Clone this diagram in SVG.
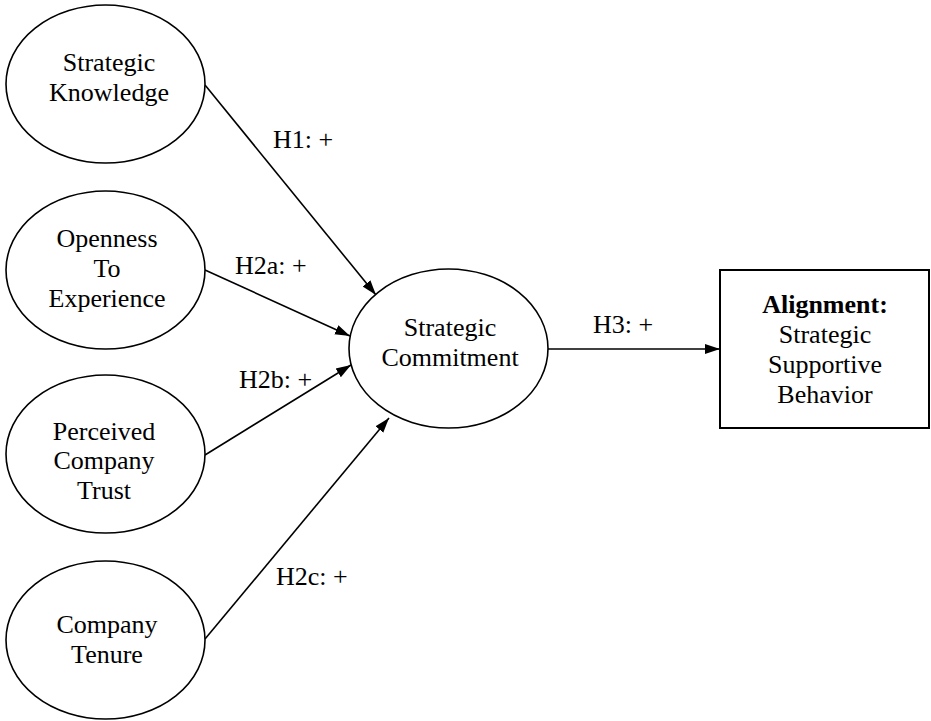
<svg xmlns="http://www.w3.org/2000/svg" width="931" height="721" viewBox="0 0 931 721">
<style>
  .node ellipse { fill: #fff; stroke: #000; stroke-width: 1.6; }
  .node rect { fill: #fff; stroke: #000; stroke-width: 2; }
  text { font-family: "Liberation Serif", "Times New Roman", serif; font-size: 26px; fill: #000; }
  .c { text-anchor: middle; }
  .b { font-weight: bold; }
  .edge { stroke: #000; stroke-width: 1.6; fill: none; marker-end: url(#arrow); }
</style>
<defs>
  <marker id="arrow" markerUnits="userSpaceOnUse" markerWidth="16" markerHeight="12" refX="15" refY="6" orient="auto">
    <path d="M0,1 L15,6 L0,11 z" fill="#000"/>
  </marker>
</defs>
<rect width="931" height="721" fill="#fff"/>
<g id="connectors">
  <line class="edge" x1="205" y1="85" x2="376" y2="295"/>
  <line class="edge" x1="205" y1="270" x2="350" y2="336"/>
  <line class="edge" x1="205" y1="455" x2="351" y2="365"/>
  <line class="edge" x1="205" y1="639" x2="389" y2="418"/>
  <line class="edge" x1="548" y1="349" x2="720" y2="349"/>
  <text x="273" y="148">H1: +</text>
  <text x="235" y="274">H2a: +</text>
  <text x="239" y="388">H2b: +</text>
  <text x="276" y="585">H2c: +</text>
  <text x="593" y="333">H3: +</text>
</g>
<g id="strategic-knowledge" class="node">
  <ellipse cx="105.5" cy="84" rx="99.5" ry="79"/>
  <text class="c" x="109" y="71">Strategic</text>
  <text class="c" x="109" y="101">Knowledge</text>
</g>
<g id="openness" class="node">
  <ellipse cx="105.5" cy="270" rx="99.5" ry="79"/>
  <text class="c" x="107" y="247">Openness</text>
  <text class="c" x="107" y="277">To</text>
  <text class="c" x="107" y="307">Experience</text>
</g>
<g id="perceived-trust" class="node">
  <ellipse cx="105.5" cy="454" rx="99.5" ry="79"/>
  <text class="c" x="104" y="440">Perceived</text>
  <text class="c" x="104" y="469">Company</text>
  <text class="c" x="104" y="499">Trust</text>
</g>
<g id="company-tenure" class="node">
  <ellipse cx="105.5" cy="640" rx="99.5" ry="79"/>
  <text class="c" x="107" y="633">Company</text>
  <text class="c" x="107" y="663">Tenure</text>
</g>
<g id="strategic-commitment" class="node">
  <ellipse cx="448.5" cy="348.5" rx="99.5" ry="79.5"/>
  <text class="c" x="450" y="336">Strategic</text>
  <text class="c" x="450" y="366">Commitment</text>
</g>
<g id="alignment" class="node">
  <rect x="720" y="270" width="209" height="158"/>
  <text class="c b" x="825" y="313">Alignment:</text>
  <text class="c" x="825" y="343">Strategic</text>
  <text class="c" x="825" y="373">Supportive</text>
  <text class="c" x="825" y="403">Behavior</text>
</g>
</svg>
